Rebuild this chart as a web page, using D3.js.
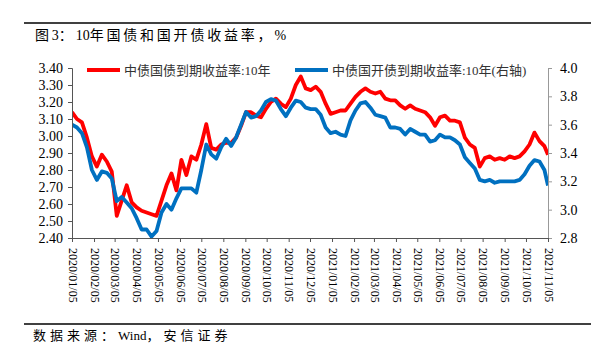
<!DOCTYPE html>
<html>
<head>
<meta charset="utf-8">
<script src="https://cdn.jsdelivr.net/npm/d3@7"></script>
<style>
  body { margin: 0; background: #fff; }
  svg { display: block; }
</style>
</head>
<body>
<svg id="chart" width="599" height="351"></svg>
<script>
// --- data (weekly readings) ---
const dates = [
  "2020-01-05","2020-01-12","2020-01-19","2020-01-26","2020-02-02","2020-02-09","2020-02-16","2020-02-23",
  "2020-03-01","2020-03-08","2020-03-15","2020-03-22","2020-03-29","2020-04-05","2020-04-12","2020-04-19",
  "2020-04-26","2020-05-03","2020-05-10","2020-05-17","2020-05-24","2020-05-31","2020-06-07","2020-06-14",
  "2020-06-21","2020-06-28","2020-07-05","2020-07-12","2020-07-19","2020-07-26","2020-08-02","2020-08-09",
  "2020-08-16","2020-08-23","2020-08-30","2020-09-06","2020-09-13","2020-09-20","2020-09-27","2020-10-04",
  "2020-10-11","2020-10-18","2020-10-25","2020-11-01","2020-11-08","2020-11-15","2020-11-22","2020-11-29",
  "2020-12-06","2020-12-13","2020-12-20","2020-12-27","2021-01-03","2021-01-10","2021-01-17","2021-01-24",
  "2021-01-31","2021-02-07","2021-02-14","2021-02-21","2021-02-28","2021-03-07","2021-03-14","2021-03-21",
  "2021-03-28","2021-04-04","2021-04-11","2021-04-18","2021-04-25","2021-05-02","2021-05-09","2021-05-16",
  "2021-05-23","2021-05-30","2021-06-06","2021-06-13","2021-06-20","2021-06-27","2021-07-04","2021-07-11",
  "2021-07-18","2021-07-25","2021-08-01","2021-08-08","2021-08-15","2021-08-22","2021-08-29","2021-09-05",
  "2021-09-12","2021-09-19","2021-09-26","2021-10-03","2021-10-10","2021-10-17","2021-10-24","2021-10-31",
  "2021-11-05"
];

// 中债国债到期收益率:10年 (left axis)
const govYield = [
  3.14,3.10,3.08,2.99,2.88,2.82,2.89,2.85,2.79,2.53,
  2.62,2.71,2.61,2.58,2.56,2.55,2.54,2.53,2.62,2.71,
  2.78,2.68,2.86,2.77,2.88,2.86,2.95,3.07,2.93,2.92,
  2.95,2.96,2.96,2.99,3.06,3.14,3.14,3.12,3.11,3.16,
  3.20,3.22,3.19,3.17,3.22,3.30,3.35,3.28,3.27,3.29,
  3.26,3.19,3.13,3.14,3.15,3.15,3.19,3.23,3.26,3.28,
  3.26,3.25,3.26,3.22,3.21,3.21,3.18,3.16,3.18,3.16,
  3.15,3.14,3.11,3.06,3.11,3.12,3.09,3.09,3.08,2.99,
  2.95,2.93,2.82,2.87,2.88,2.86,2.87,2.86,2.88,2.87,
  2.88,2.91,2.95,3.02,2.97,2.94,2.89
];

// 中债国开债到期收益率:10年 (right axis)
const cdbYield = [
  3.60,3.58,3.54,3.44,3.28,3.21,3.27,3.26,3.22,3.06,
  3.09,3.05,3.01,2.94,2.86,2.86,2.81,2.85,2.98,3.04,
  3.00,3.08,3.15,3.15,3.15,3.12,3.28,3.46,3.39,3.36,
  3.44,3.50,3.45,3.51,3.60,3.69,3.65,3.66,3.70,3.76,
  3.78,3.77,3.71,3.66,3.72,3.77,3.76,3.72,3.71,3.71,
  3.67,3.58,3.54,3.55,3.53,3.52,3.63,3.70,3.75,3.76,
  3.72,3.67,3.66,3.65,3.58,3.58,3.57,3.53,3.57,3.55,
  3.53,3.53,3.48,3.49,3.53,3.51,3.51,3.49,3.46,3.37,
  3.33,3.29,3.21,3.20,3.21,3.19,3.20,3.20,3.20,3.20,
  3.21,3.25,3.31,3.35,3.34,3.28,3.17
];

const xTickLabels = [
  "2020/01/05","2020/02/05","2020/03/05","2020/04/05","2020/05/05","2020/06/05",
  "2020/07/05","2020/08/05","2020/09/05","2020/10/05","2020/11/05","2020/12/05",
  "2021/01/05","2021/02/05","2021/03/05","2021/04/05","2021/05/05","2021/06/05",
  "2021/07/05","2021/08/05","2021/09/05","2021/10/05","2021/11/05"
];
const leftTicks = [2.40,2.50,2.60,2.70,2.80,2.90,3.00,3.10,3.20,3.30,3.40];
const rightTicks = [2.8,3.0,3.2,3.4,3.6,3.8,4.0];

const seriesNames = ["中债国债到期收益率:10年", "中债国开债到期收益率:10年(右轴)"];
const titleText = "图3：10年国债和国开债收益率，%";
const sourceText = "数据来源：Wind，安信证券";

// --- setup ---
const svg = d3.select("#chart");
const serif = "'Liberation Serif', 'Times New Roman', 'Noto Sans CJK SC', serif";
const plot = { left: 72, right: 548, top: 68, bottom: 238 };

const parseDay = d3.timeParse("%Y-%m-%d");
const parseTick = d3.timeParse("%Y/%m/%d");
const rows = dates.map((d, i) => ({ date: parseDay(d), gov: govYield[i], cdb: cdbYield[i] }));

// --- scales ---
const x = d3.scaleTime()
    .domain([parseTick(xTickLabels[0]), parseTick(xTickLabels[xTickLabels.length - 1])])
    .range([plot.left, plot.right]);
const yLeft = d3.scaleLinear().domain([2.4, 3.4]).range([plot.bottom, plot.top]);
const yRight = d3.scaleLinear().domain([2.8, 4.0]).range([plot.bottom, plot.top]);

// text where only the CJK runs get the wide spacing (Latin stays tight)
function spacedText(sel, str, spacing) {
    str.match(/[\u0000-\u00ff]+|[^\u0000-\u00ff]+/g).forEach(part => {
        const latin = /^[\u0000-\u00ff]/.test(part);
        sel.append("tspan")
            .style("letter-spacing", latin ? "0px" : `${spacing}px`)
            .text(part);
    });
}

// --- header / footer rules ---
svg.append("line").attr("x1", 24).attr("x2", 591).attr("y1", 23).attr("y2", 23)
    .attr("stroke", "#000").attr("stroke-width", 1.5);
svg.append("line").attr("x1", 24).attr("x2", 591).attr("y1", 324).attr("y2", 324)
    .attr("stroke", "#000").attr("stroke-width", 1.5);

const title = svg.append("text").attr("x", 35).attr("y", 40)
    .style("font-family", serif).style("font-size", "14px").attr("fill", "#000");
spacedText(title, titleText, 2.8);

const source = svg.append("text").attr("x", 33).attr("y", 340)
    .style("font-family", serif).style("font-size", "13px").attr("fill", "#000");
spacedText(source, sourceText, 4);

// --- lines ---
const clipId = "plot-clip";
svg.append("defs").append("clipPath").attr("id", clipId)
    .append("rect").attr("x", plot.left).attr("y", plot.top - 5)
    .attr("width", plot.right - plot.left).attr("height", plot.bottom - plot.top + 5);

const lineGov = d3.line().x(d => x(d.date)).y(d => yLeft(d.gov));
const lineCdb = d3.line().x(d => x(d.date)).y(d => yRight(d.cdb));

const lines = svg.append("g").attr("clip-path", `url(#${clipId})`);
lines.append("path").datum(rows).attr("d", lineGov)
    .attr("fill", "none").attr("stroke", "#FF0000").attr("stroke-width", 3.8)
    .attr("stroke-linejoin", "round");
lines.append("path").datum(rows).attr("d", lineCdb)
    .attr("fill", "none").attr("stroke", "#0070C0").attr("stroke-width", 3.8)
    .attr("stroke-linejoin", "round");

// --- axes ---
const leftAxis = svg.append("g")
    .attr("transform", `translate(${plot.left},0)`)
    .call(d3.axisLeft(yLeft).tickValues(leftTicks).tickFormat(d3.format(".2f")).tickSize(4).tickPadding(5));
const rightAxis = svg.append("g")
    .attr("transform", `translate(${plot.right},0)`)
    .call(d3.axisRight(yRight).tickValues(rightTicks).tickFormat(d3.format(".1f")).tickSize(4).tickPadding(8));
const bottomAxis = svg.append("g")
    .attr("transform", `translate(0,${plot.bottom})`)
    .call(d3.axisBottom(x).tickValues(xTickLabels.map(parseTick)).tickFormat(d3.timeFormat("%Y/%m/%d")).tickSize(4));

[leftAxis, rightAxis, bottomAxis].forEach(g => {
    g.select(".domain").attr("stroke", "#555").attr("stroke-width", 1);
    g.selectAll(".tick line").attr("stroke", "#555");
    g.selectAll("text").style("font-family", serif).attr("fill", "#000");
});
rightAxis.select(".domain").attr("stroke", "#999");
rightAxis.selectAll(".tick line").attr("stroke", "#999");
leftAxis.selectAll("text").style("font-size", "14px");
rightAxis.selectAll("text").style("font-size", "14px");

bottomAxis.selectAll("text")
    .style("font-size", "12px")
    .attr("transform", "rotate(90)")
    .attr("x", 10)
    .attr("y", 0)
    .attr("dy", "0.32em")
    .attr("text-anchor", "start");

// --- legend ---
const legendItems = [
    { name: seriesNames[0], color: "#FF0000", x: 87 },
    { name: seriesNames[1], color: "#0070C0", x: 295 }
];
const legend = svg.append("g").attr("transform", "translate(0,70)");
legendItems.forEach(item => {
    legend.append("line").attr("x1", item.x).attr("x2", item.x + 33).attr("y1", 0).attr("y2", 0)
        .attr("stroke", item.color).attr("stroke-width", 4);
    legend.append("text").attr("x", item.x + 37).attr("y", 0).attr("dy", "0.36em")
        .style("font-family", serif).style("font-size", "13px").attr("fill", "#333")
        .text(item.name);
});
</script>
</body>
</html>
